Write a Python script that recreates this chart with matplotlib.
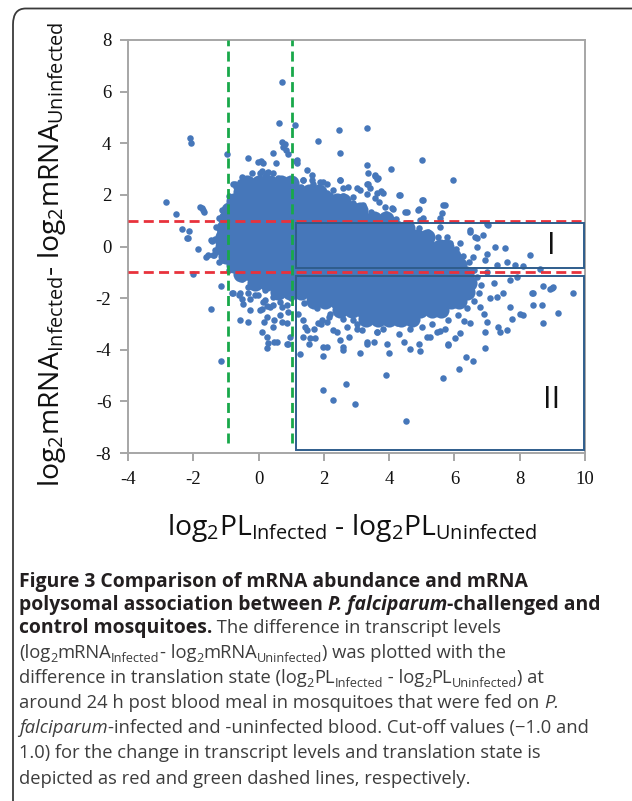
import matplotlib
matplotlib.use("Agg")
import matplotlib.pyplot as plt
from matplotlib.patches import Rectangle, FancyBboxPatch

W, H, DPI = 632, 801, 100
plt.rcParams['font.family'] = ['Open Sans', 'DejaVu Sans']
plt.rcParams['mathtext.default'] = 'regular'

# ------------------------------------------------------------------ data
x_ticks = [-4, -2, 0, 2, 4, 6, 8, 10]
y_ticks = [-8, -6, -4, -2, 0, 2, 4, 6, 8]
x_limits = (-4, 10)
y_limits = (-8, 8)

mrna_cutoff = 1.0            # red dashed lines (transcript level)
pl_cutoffs = [-0.95, 1.03]   # green dashed lines (translation state), as drawn

# region boxes: (x0, x1, y0, y1)
region_I = (1.15, 9.98, -0.83, 0.90)
region_II = (1.15, 9.98, -7.89, -1.15)

# dense core of the cloud, read row by row: (mRNA diff, [PL diffs])
core_rows = [
    (2.45, [-0.35, 0.0, 0.35, 0.7, 1.0]),
    (2.10, [-0.55, -0.2, 0.15, 0.5, 0.85, 1.2, 1.55, 1.85]),
    (1.75, [-0.75, -0.4, -0.05, 0.3, 0.65, 1.0, 1.35, 1.7, 2.05, 2.4, 2.6]),
    (1.40, [-0.9, -0.55, -0.2, 0.15, 0.5, 0.85, 1.2, 1.55, 1.9, 2.25, 2.6, 2.9, 3.1]),
    (1.05, [-1.0, -0.65, -0.3, 0.05, 0.4, 0.75, 1.1, 1.45, 1.8, 2.15, 2.5, 2.85, 3.2, 3.55, 3.9]),
    (0.70, [-1.05, -0.7, -0.35, 0.0, 0.35, 0.7, 1.05, 1.4, 1.75, 2.1, 2.45, 2.8, 3.15, 3.5, 3.85, 4.2, 4.55]),
    (0.35, [-1.1, -0.75, -0.4, -0.05, 0.3, 0.65, 1.0, 1.35, 1.7, 2.05, 2.4, 2.75, 3.1, 3.45, 3.8, 4.15, 4.5, 4.85, 5.15]),
    (0.00, [-1.1, -0.75, -0.4, -0.05, 0.3, 0.65, 1.0, 1.35, 1.7, 2.05, 2.4, 2.75, 3.1, 3.45, 3.8, 4.15, 4.5, 4.85, 5.2, 5.55, 5.75]),
    (-0.35, [-1.0, -0.65, -0.3, 0.05, 0.4, 0.75, 1.1, 1.45, 1.8, 2.15, 2.5, 2.85, 3.2, 3.55, 3.9, 4.25, 4.6, 4.95, 5.3, 5.65, 5.95]),
    (-0.70, [-0.75, -0.4, -0.05, 0.3, 0.65, 1.0, 1.35, 1.7, 2.05, 2.4, 2.75, 3.1, 3.45, 3.8, 4.15, 4.5, 4.85, 5.2, 5.55, 5.9, 6.15]),
    (-1.05, [-0.55, -0.2, 0.15, 0.5, 0.85, 1.2, 1.55, 1.9, 2.25, 2.6, 2.95, 3.3, 3.65, 4.0, 4.35, 4.7, 5.05, 5.4, 5.75, 6.1, 6.35]),
    (-1.40, [-0.1, 0.25, 0.6, 0.95, 1.3, 1.65, 2.0, 2.35, 2.7, 3.05, 3.4, 3.75, 4.1, 4.45, 4.8, 5.15, 5.5, 5.85, 6.2, 6.45]),
    (-1.75, [0.6, 0.95, 1.3, 1.65, 2.0, 2.35, 2.7, 3.05, 3.4, 3.75, 4.1, 4.45, 4.8, 5.15, 5.5, 5.85, 6.2, 6.4]),
    (-2.10, [1.7, 2.05, 2.4, 2.75, 3.1, 3.45, 3.8, 4.15, 4.5, 4.85, 5.2, 5.55, 5.9, 6.15]),
    (-2.45, [2.5, 2.85, 3.2, 3.55, 3.9, 4.25, 4.6, 4.95, 5.3, 5.6]),
    (-2.80, [3.3, 3.65, 4.0, 4.35, 4.7]),
]

# individually visible genes (fringe and outliers): (PL diff, mRNA diff)
single_points = [
    (0.73, 6.36), (0.63, 4.77), (1.12, 4.70), (-2.10, 4.19), (-2.07, 4.02), (-0.98, 3.57),
    (0.72, 4.05), (0.80, 3.98), (0.76, 3.85), (0.85, 3.72), (0.90, 3.60),
    (1.83, 4.10), (2.47, 4.51), (2.50, 3.63), (3.31, 4.58), (3.33, 3.16), (4.05, 3.00),
    (5.00, 3.37), (5.95, 2.57),
    (-0.31, 3.41), (0.06, 3.32), (0.15, 3.25), (0.43, 3.63), (0.52, 3.25), (0.04, 2.86),
    (0.25, 2.83), (-0.21, 2.86), (-0.57, 2.51), (-0.72, 2.42), (1.14, 3.32), (1.17, 3.25),
    (1.37, 2.57), (1.63, 2.57), (1.88, 2.51), (2.09, 2.44), (2.50, 2.57), (2.60, 2.25),
    (3.01, 2.25), (3.36, 2.44), (3.36, 2.83), (3.31, 2.03),
    (-2.85, 1.73), (-2.54, 1.24), (-1.74, 1.48), (-1.66, 1.35), (-2.36, 0.66), (-2.12, 0.60),
    (-1.85, -0.08), (-1.44, 0.22), (-1.23, 0.18), (-1.03, 1.15), (-0.98, 1.28), (-1.54, -0.33),
    (-1.28, -0.14), (-1.13, 0.64), (-2.15, 0.31), (-1.61, -0.40), (-1.36, -0.33),
    (-2.00, -1.08), (-1.16, -1.53), (-1.47, -2.43), (-1.16, -4.43), (-0.57, -2.85), (-0.31, -2.92),
    (-0.77, -1.82), (-0.59, -1.86), (-0.33, -1.82), (-0.52, -2.05), (-0.26, -2.05), (-0.01, -1.88),
    (0.20, -2.08), (0.45, -1.95), (0.25, -2.31), (0.45, -2.27), (0.10, -2.44), (0.71, -2.36),
    (0.91, -2.53), (0.17, -2.92), (0.47, -2.85), (0.71, -2.92), (0.10, -3.30), (0.25, -3.50),
    (0.47, -3.69), (0.25, -3.95), (0.89, -3.76), (0.96, -3.50),
    (1.27, -4.18), (1.42, -3.11), (1.71, -3.21), (1.93, -2.85), (2.17, -2.75), (1.96, -3.91),
    (2.09, -3.89), (1.96, -4.25), (2.58, -3.91), (2.60, -4.01), (3.11, -4.12), (2.78, -3.52),
    (3.01, -3.21), (1.58, -3.54), (1.96, -5.57), (2.29, -5.95), (2.67, -5.31), (2.95, -6.12),
    (3.64, 2.60), (3.57, 2.73), (3.41, 2.25), (3.74, 2.16), (3.82, 2.06), (3.57, 1.86),
    (3.70, 1.73), (3.87, 1.54), (4.31, 1.99), (4.08, 1.51), (4.54, 1.35), (4.89, 1.41),
    (5.00, 1.80), (5.05, 1.09), (5.61, 1.31), (5.71, 1.60), (5.56, 1.09), (4.95, 1.02),
    (7.04, 0.83), (6.48, 0.57), (6.63, 0.38), (6.89, 0.44), (7.24, -0.01), (7.55, -0.07),
    (8.30, -0.33), (7.60, -0.59), (7.86, -0.72), (8.11, -0.76), (8.62, -0.89), (8.93, -1.63),
    (9.03, -1.56), (9.64, -1.79), (8.42, -1.82), (8.67, -2.27), (9.18, -2.59), (8.70, -2.96),
    (8.01, -2.60), (7.76, -2.79), (7.35, -3.11), (7.60, -3.24), (6.94, -3.95), (6.58, -4.43),
    (6.36, -4.30), (6.15, -4.73), (5.64, -5.11), (3.90, -4.99), (4.52, -6.77), (4.64, -3.99),
    (4.95, -4.04), (4.01, -4.12), (3.54, -3.69), (5.81, -3.82), (6.02, -3.56), (5.25, -3.50),
    (5.56, -3.28),
    (3.67, 2.64), (4.13, 1.47), (4.33, 1.99), (4.49, 1.35), (5.05, 1.80), (4.90, 1.47),
    (5.66, 1.60), (5.76, 0.38), (5.56, 0.76), (6.17, 0.12), (6.48, 0.64), (6.99, 0.89),
    (6.68, 0.31), (6.58, -0.40), (6.94, -0.53), (7.91, -1.17), (8.37, -1.82), (8.72, -1.54),
    (8.98, -1.59), (8.42, -2.27), (8.11, -2.66), (7.70, -2.34), (7.29, -1.95), (6.78, -2.34),
    (6.48, -2.98), (6.99, -2.92), (7.40, -3.31), (6.94, -3.31), (5.81, -3.76), (6.17, -3.37),
    (5.15, -3.50), (4.90, -3.76), (4.44, -3.69), (4.64, -3.18), (5.46, -3.31), (4.23, -2.98),
    (3.62, -3.31), (3.93, -3.76), (3.31, -3.69),
    (-0.01, 3.28), (0.30, 2.90), (0.45, 2.83), (0.10, 2.94), (-0.16, 2.47), (-0.77, 2.44),
    (-0.62, 2.19), (-0.88, 1.80), (-1.13, 1.41), (-1.08, 1.22), (-1.69, 1.41), (-1.79, 1.54),
    (-2.20, 0.31), (-1.39, -0.33), (-1.46, 0.25), (-1.18, 0.51), (-1.33, -0.14), (-1.13, -0.53),
    (-1.08, 0.12),
    (-0.82, -1.82), (-0.57, -1.82), (-0.31, -1.56), (-0.11, -1.88), (-0.47, -2.21), (-0.26, -2.47),
    (0.15, -2.14), (0.35, -2.34), (0.04, -2.47), (0.25, -2.72), (0.66, -2.66), (0.86, -2.98),
    (0.45, -3.11), (0.66, -2.14), (0.86, -2.27), (0.30, -3.73), (0.55, -3.69), (0.86, -3.76),
    (1.37, -2.85), (1.47, -3.24), (1.83, -2.98), (2.09, -2.92), (2.29, -3.24), (2.70, -3.11),
    (2.90, -2.85), (3.16, -3.24), (3.41, -2.85), (3.62, -3.31), (3.31, -3.76), (2.49, -3.63),
    (1.73, -3.56), (1.53, -3.76), (1.37, -3.50),
    (1.17, 3.35), (1.47, 2.96), (1.68, 2.44), (1.98, 2.51), (2.49, 2.57), (2.75, 2.31),
    (3.11, 2.19), (3.57, 2.77), (3.62, 2.06), (3.31, 2.44), (2.90, 1.93), (2.09, 2.06),
    (2.29, 2.19), (1.37, 2.57), (1.63, 2.77),
    (-0.50, 2.70), (0.20, 2.75), (0.60, 2.65), (1.10, 2.50), (1.30, 2.30), (1.80, 2.20),
    (2.20, 2.00), (2.60, 1.95), (2.90, 1.70), (3.20, 1.60), (3.45, 1.35), (3.90, 1.25),
    (4.20, 1.05), (4.60, 0.90), (4.90, 0.70), (5.20, 0.55), (5.50, 0.35), (5.85, 0.15),
    (6.05, -0.10), (6.25, -0.35), (6.45, -0.60), (6.60, -0.90), (6.70, -1.20), (6.80, -1.50),
    (6.75, -1.80), (6.60, -2.10), (6.40, -2.40), (6.10, -2.65), (5.80, -2.85), (5.30, -3.00),
    (5.00, -3.10), (3.00, -3.00), (2.60, -2.80), (2.20, -2.60), (1.80, -2.40), (1.40, -2.20),
    (1.00, -2.00), (0.60, -1.85), (0.20, -1.70), (-0.20, -1.45), (-0.50, -1.25), (-0.90, -0.90),
    (-1.20, -0.60), (-1.30, -0.20), (-1.35, 0.30), (-1.30, 0.75), (-1.20, 1.10), (-1.00, 1.50),
    (-0.90, 1.95), (-0.70, 2.30),
    (7.00, -1.00), (7.20, -1.40), (7.30, -0.70), (7.10, -2.00), (6.90, -2.60), (7.50, -1.80),
    (7.70, -1.30), (6.70, 0.00), (7.00, -0.30), (6.30, -2.90), (5.70, -3.20), (4.30, -3.40),
    (3.80, -3.20), (2.40, -3.30), (1.90, -3.00), (1.20, -2.60),
]

caption_lines = [
    [("Figure 3 Comparison of mRNA abundance and mRNA", "b")],
    [("polysomal association between ", "b"), ("P. falciparum", "bi"), ("-challenged and", "b")],
    [("control mosquitoes.", "b"), (" The difference in transcript levels", "r")],
    [("(log", "r"), ("2", "s"), ("mRNA", "r"), ("Infected", "s"), ("- log", "r"), ("2", "s"),
     ("mRNA", "r"), ("Uninfected", "s"), (") was plotted with the", "r")],
    [("difference in translation state (log", "r"), ("2", "s"), ("PL", "r"), ("Infected", "s"),
     (" - log", "r"), ("2", "s"), ("PL", "r"), ("Uninfected", "s"), (") at", "r")],
    [("around 24 h post blood meal in mosquitoes that were fed on ", "r"), ("P.", "i")],
    [("falciparum", "i"), ("-infected and -uninfected blood. Cut-off values (\u22121.0 and", "r")],
    [("1.0) for the change in transcript levels and translation state is", "r")],
    [("depicted as red and green dashed lines, respectively.", "r")],
]

# ------------------------------------------------------------------ figure
fig = plt.figure(figsize=(W / DPI, H / DPI), dpi=DPI)
fig.patch.set_facecolor('white')


def fx(px):
    return px / W


def fy(py):
    return 1 - py / H


# outer frame (rounded, only the top-left part is visible)
frame = FancyBboxPatch((fx(13), fy(830)), fx(650) - fx(13), fy(8.5) - fy(830),
                       boxstyle="round,pad=0,rounding_size=0.02",
                       transform=fig.transFigure, facecolor='none',
                       edgecolor='#3a3a3a', linewidth=1.3, clip_on=False)
fig.patches.append(frame)

ax = fig.add_axes([fx(128), fy(453), fx(585) - fx(128), fy(40) - fy(453)])
ax.set_xlim(*x_limits)
ax.set_ylim(*y_limits)
ax.set_xticks(x_ticks)
ax.set_yticks(y_ticks)
ax.set_xticklabels([str(v) for v in x_ticks], family='Liberation Serif', fontsize=13.5)
ax.set_yticklabels([str(v) for v in y_ticks], family='Liberation Serif', fontsize=13.5)
for sp in ax.spines.values():
    sp.set_color('#a6a6a6')
    sp.set_linewidth(1.4)
ax.tick_params(direction='out', length=6, width=1.4, color='#a6a6a6',
               labelcolor='#111111')
ax.tick_params(axis='x', pad=7)
ax.tick_params(axis='y', pad=6)

point_color = '#4677ba'
cx, cy = [], []
for yv, xs in core_rows:
    for xv in xs:
        cx.append(xv)
        cy.append(yv)
ax.scatter(cx, cy, s=135, color=point_color, linewidths=0, zorder=2)
px_, py_ = zip(*single_points)
ax.scatter(px_, py_, s=22, color=point_color, linewidths=0, zorder=2)

# cut-off lines
ax.hlines([-mrna_cutoff, mrna_cutoff], x_limits[0], 9.93, colors='#e8323c',
          linewidth=2.0, linestyles=(0, (3.6, 1.9)), zorder=4)
ax.vlines(pl_cutoffs, -7.6, y_limits[1], colors='#18a84a',
          linewidth=2.0, linestyles=(0, (3.6, 1.9)), zorder=4)

# regions
for (x0, x1, y0, y1) in (region_I, region_II):
    ax.add_patch(Rectangle((x0, y0), x1 - x0, y1 - y0, fill=False,
                           edgecolor='#2f5d8c', linewidth=1.4, zorder=5))
ax.text(8.98, 0.0, "I", fontsize=22, ha='center', va='center', color='#111111', zorder=6)
ax.text(8.98, -5.95, "II", fontsize=22, ha='center', va='center', color='#111111', zorder=6)

# ------------------------------------------------------------------ labels
renderer = fig.canvas.get_renderer()


def text_w(s, **kw):
    t = fig.text(0, 0, s, **kw)
    w = t.get_window_extent(renderer).width
    t.remove()
    return w


def adv(s, **kw):
    return text_w('x' + s + 'x', **kw) - text_w('xx', **kw)


ylab = r'log$_2$mRNA$_{Infected}$- log$_2$mRNA$_{Uninfected}$'
xlab = r'log$_2$PL$_{Infected}$ - log$_2$PL$_{Uninfected}$'
ys = 17 * 463 / text_w(ylab, fontsize=17)
xs_ = 17 * 372 / text_w(xlab, fontsize=17)
lab_size = (ys + xs_) / 2
fig.text(fx(52.5), fy(254.5), ylab, rotation=90, ha='center', va='center',
         fontsize=lab_size, color='#111111')
fig.text(fx(352), fy(535), xlab, ha='center', va='baseline',
         fontsize=lab_size, color='#111111')

# ------------------------------------------------------------------ caption
bold_size = 12 * 508 / adv(caption_lines[0][0][0], fontsize=12, fontweight='bold')
reg_size = 12 * 518 / adv(caption_lines[7][0][0], fontsize=12)
baselines = [587, 610, 633, 657.5, 683, 708, 733, 758, 784]
styles = {
    'b': dict(fontweight='bold', color='#231f20'),
    'bi': dict(fontweight='bold', fontstyle='italic', color='#231f20'),
    'r': dict(color='#3d3d3d'),
    'i': dict(fontstyle='italic', color='#3d3d3d'),
    's': dict(color='#3d3d3d'),
}
for line, base in zip(caption_lines, baselines):
    xpos = 19.0
    for txt, st in line:
        kw = dict(styles[st])
        if st in ('b', 'bi'):
            kw['fontsize'] = bold_size
            dy = 0
        elif st == 's':
            kw['fontsize'] = reg_size * 0.7
            dy = reg_size * 0.22 * DPI / 72
        else:
            kw['fontsize'] = reg_size
            dy = 0
        fig.text(fx(xpos), fy(base + dy), txt, ha='left', va='baseline', **kw)
        xpos += adv(txt, **kw)

fig.savefig("out.png", dpi=DPI, facecolor='white')
